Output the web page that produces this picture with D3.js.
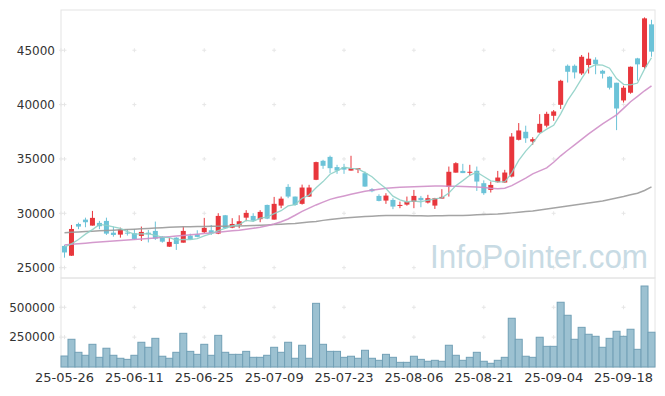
<!DOCTYPE html>
<html>
<head>
<meta charset="utf-8">
<script src="https://cdn.jsdelivr.net/npm/d3@7"></script>
<style>
  body { margin: 0; background: #fff; }
  text { font-family: "DejaVu Sans", sans-serif; }
</style>
</head>
<body>
<svg id="chart" width="665" height="396"></svg>
<script>
// trading days (yy-mm-dd)
var dates = ["25-05-26","25-05-27","25-05-28","25-05-29","25-05-30","25-06-02","25-06-04","25-06-05","25-06-09","25-06-10",
  "25-06-11","25-06-12","25-06-13","25-06-16","25-06-17","25-06-18","25-06-19","25-06-20","25-06-23","25-06-24",
  "25-06-25","25-06-26","25-06-27","25-06-30","25-07-01","25-07-02","25-07-03","25-07-04","25-07-07","25-07-08",
  "25-07-09","25-07-10","25-07-11","25-07-14","25-07-15","25-07-16","25-07-17","25-07-18","25-07-21","25-07-22",
  "25-07-23","25-07-24","25-07-25","25-07-28","25-07-29","25-07-30","25-07-31","25-08-01","25-08-04","25-08-05",
  "25-08-06","25-08-07","25-08-08","25-08-11","25-08-12","25-08-13","25-08-14","25-08-18","25-08-19","25-08-20",
  "25-08-21","25-08-22","25-08-25","25-08-26","25-08-27","25-08-28","25-08-29","25-09-01","25-09-02","25-09-03",
  "25-09-04","25-09-05","25-09-08","25-09-09","25-09-10","25-09-11","25-09-12","25-09-15","25-09-16","25-09-17",
  "25-09-18","25-09-19","25-09-22","25-09-23","25-09-24"];

var opens = [27000,26100,29020,29420,28870,29120,29300,28220,28040,28220,
  28170,27920,28220,28380,27850,26930,27760,27300,27950,28070,
  28260,28440,28130,29820,28680,28930,29600,29760,29460,30770,
  29420,30710,32430,31540,30870,31540,33080,34830,35190,34250,
  34250,33930,34020,33690,32220,31600,31170,31230,30680,30800,
  31050,31420,30990,30710,31350,32430,33740,33900,33760,33910,
  32770,32150,32860,32830,33380,36760,37500,36600,37430,38060,
  38970,39980,43570,43570,42860,43640,44130,43110,42560,42010,
  40380,41090,44250,43450,47380];
var highs = [27090,28930,29140,29600,30220,29300,29600,28780,28680,28540,
  28560,28780,28470,29240,27900,27760,27800,28780,28130,28440,
  29580,28930,30010,29850,29550,29820,30290,30010,30290,30800,
  31510,31540,32680,31540,32640,32620,34750,34920,35310,34460,
  34550,35290,34150,33840,32310,31750,31850,31390,31080,31540,
  32150,31600,31700,31420,32220,34300,34700,34550,34460,34300,
  33030,32920,33900,34000,37380,38300,38060,37000,39120,39340,
  39500,42280,43690,43690,44560,44780,44350,43200,42600,42010,
  41730,43500,44300,48020,47800];
var lows = [25920,26080,28540,28720,28870,28540,28010,27850,27760,27950,
  27550,27460,27320,27550,27300,26900,26630,27300,27550,27800,
  28170,28010,28080,28560,28630,28630,29270,29240,29180,29460,
  29420,30470,31390,30700,30800,31500,33050,34090,33690,33630,
  33630,33930,33700,32440,31940,31100,30870,30380,30470,30700,
  30470,30560,30900,30400,31350,31540,33740,33700,33450,32060,
  31700,31910,32830,32800,33300,36700,36480,36300,37400,37900,
  38510,39590,42030,42400,42720,42860,42790,42400,41390,37650,
  40190,41000,42200,43270,44400];
var closes = [26400,28560,28780,29180,29580,28810,28130,28010,28500,28130,
  27640,28290,28070,27670,27390,27370,27180,28380,27580,27830,
  28660,28170,29760,28630,29020,29270,30040,29330,30130,29510,
  30870,31350,31540,30770,32370,32370,34710,34370,34150,33930,
  34020,34150,34150,32460,32030,31140,31630,30620,30770,31050,
  31600,31200,31390,31390,31510,33820,34610,33700,33820,32920,
  31850,32610,33290,33750,37060,37620,36900,36820,38230,39150,
  39370,42190,43020,42960,44400,44220,43730,42840,41550,39640,
  41550,43480,43700,47930,44870];
var volumes = [92000,232000,123000,98000,190000,81000,157000,98000,73000,64000,
  98000,207000,165000,240000,90000,73000,123000,282000,131000,106000,
  190000,98000,265000,123000,106000,106000,131000,81000,81000,98000,
  165000,123000,207000,73000,182000,73000,533000,190000,131000,131000,
  81000,90000,73000,140000,73000,56000,106000,81000,39000,39000,
  90000,64000,48000,56000,48000,182000,98000,56000,81000,123000,
  48000,31000,56000,81000,408000,232000,90000,81000,249000,173000,
  173000,542000,433000,232000,332000,274000,257000,165000,240000,299000,
  257000,316000,148000,678000,291000];
// closes of the four sessions before the window (for the 5-day average)
var prevCloses = [27100,26800,26700,27500];
// 20-day and 60-day averages
var ma20 = [27090,27150,27200,27250,27310,27370,27410,27460,27500,27550,
  27590,27640,27690,27740,27800,27850,27910,27970,28030,28080,
  28140,28200,28260,28330,28390,28450,28530,28620,28720,28860,
  29020,29230,29480,29820,30180,30480,30770,31030,31280,31450,
  31600,31750,31890,32020,32120,32210,32300,32350,32390,32420,
  32440,32470,32500,32520,32510,32500,32480,32470,32440,32410,
  32370,32300,32260,32300,32550,32890,33230,33630,33900,34180,
  34700,35290,35800,36300,36800,37310,37770,38230,38650,39060,
  39650,40260,40750,41270,41730];
var ma60 = [28220,28250,28290,28320,28360,28390,28420,28450,28480,28510,
  28540,28570,28610,28640,28680,28710,28750,28760,28770,28780,
  28790,28800,28810,28820,28830,28840,28860,28880,28900,28930,
  28960,28990,29030,29070,29130,29190,29250,29350,29420,29490,
  29560,29620,29670,29710,29740,29770,29790,29810,29800,29790,
  29780,29770,29760,29770,29780,29790,29800,29810,29830,29860,
  29880,29910,29940,29990,30040,30100,30160,30220,30310,30400,
  30490,30580,30680,30770,30860,30950,31050,31140,31270,31400,
  31540,31700,31850,32100,32430];
var priceTicks = [25000,30000,35000,40000,45000];
var volTicks = [250000,500000];
var tickEvery = 10;

var allCloses = prevCloses.concat(closes);
var ma5 = closes.map(function(c, i) {
  return d3.mean(allCloses.slice(i, i + 5));
});

var svg = d3.select("#chart");
var plotLeft = 61, plotRight = 655, plotTop = 10, split = 278, plotBottom = 367;

var x = d3.scaleBand().domain(dates).range([plotLeft, plotRight]).padding(0);
var cx = function(d) { return x(d) + x.bandwidth() / 2; };
var y = d3.scaleLinear().domain([24050, 48700]).range([split, plotTop]);
var yv = d3.scaleLinear().domain([0, 745000]).range([plotBottom, split]);

var tickDates = dates.filter(function(d, i) { return i % tickEvery == 0; });

// panel frames
svg.append("rect").attr("x", plotLeft).attr("y", plotTop).attr("width", plotRight - plotLeft).attr("height", split - plotTop)
  .attr("fill", "none").attr("stroke", "#e4e4e4");
svg.append("rect").attr("x", plotLeft).attr("y", split).attr("width", plotRight - plotLeft).attr("height", plotBottom - split)
  .attr("fill", "none").attr("stroke", "#e4e4e4");

// grid crosses
function crosses(g, ys) {
  var pts = [];
  ys.forEach(function(v) {
    pts.push([plotLeft, v]);
    tickDates.forEach(function(d) { pts.push([cx(d), v]); });
  });
  g.selectAll("path").data(pts).enter().append("path")
    .attr("d", function(p) { return "M" + (p[0] - 2) + "," + p[1] + "h4M" + p[0] + "," + (p[1] - 2) + "v4"; })
    .attr("stroke", "#e6e6e6").attr("stroke-width", 1);
}
crosses(svg.append("g"), priceTicks.map(y));
crosses(svg.append("g"), volTicks.map(yv));

// watermark
svg.append("text").attr("x", 430).attr("y", 268)
  .attr("textLength", 218).attr("lengthAdjust", "spacingAndGlyphs")
  .style("font-family", "'Liberation Sans', Arial, sans-serif").style("font-size", "33px")
  .attr("fill", "#c8dbe4").text("InfoPointer.com");

// y axes
var yAxis = d3.axisLeft(y).tickValues(priceTicks).tickSize(0).tickPadding(6).tickFormat(d3.format("d"));
var ga = svg.append("g").attr("transform", "translate(" + plotLeft + ",0)").call(yAxis);
var yvAxis = d3.axisLeft(yv).tickValues(volTicks).tickSize(0).tickPadding(6).tickFormat(d3.format("d"));
var gv = svg.append("g").attr("transform", "translate(" + plotLeft + ",0)").call(yvAxis);
[ga, gv].forEach(function(g) {
  g.select(".domain").remove();
  g.selectAll("text").style("font-size", "12px").attr("fill", "#333");
});

// x axis
var xAxis = d3.axisBottom(x).tickValues(tickDates).tickSize(0).tickPadding(6);
var gx = svg.append("g").attr("transform", "translate(0," + plotBottom + ")").call(xAxis);
gx.select(".domain").remove();
gx.selectAll("text").style("font-size", "13px").attr("fill", "#333");

// volume bars
svg.append("g").selectAll("rect").data(dates).enter().append("rect")
  .attr("x", function(d) { return x(d); })
  .attr("width", x.bandwidth())
  .attr("y", function(d, i) { return yv(volumes[i]); })
  .attr("height", function(d, i) { return plotBottom - yv(volumes[i]); })
  .attr("fill", "#9cc1d1").attr("stroke", "#72a0b6").attr("stroke-width", 1);

// candles
var upColor = "#e8363c", downColor = "#6cc3d8";
var candles = svg.append("g").selectAll("g").data(dates).enter().append("g");
candles.append("line")
  .attr("x1", cx).attr("x2", cx)
  .attr("y1", function(d, i) { return y(highs[i]); })
  .attr("y2", function(d, i) { return y(lows[i]); })
  .attr("stroke", function(d, i) { return closes[i] >= opens[i] ? upColor : downColor; })
  .attr("stroke-width", 1);
candles.append("rect")
  .attr("x", function(d) { return cx(d) - 2.5; })
  .attr("width", 5)
  .attr("y", function(d, i) { return y(Math.max(opens[i], closes[i])); })
  .attr("height", function(d, i) { return Math.max(1, Math.abs(y(opens[i]) - y(closes[i]))); })
  .attr("fill", function(d, i) { return closes[i] >= opens[i] ? upColor : downColor; });

// moving averages
function maLine(vals, color, w) {
  var line = d3.line().x(function(d, i) { return cx(dates[i]); }).y(function(d) { return y(d); });
  svg.append("path").datum(vals).attr("d", line)
    .attr("fill", "none").attr("stroke", color).attr("stroke-width", w).attr("stroke-opacity", 0.9);
}
maLine(ma60, "#9a9a9a", 1.5);
maLine(ma20, "#cf8fc8", 1.5);
maLine(ma5, "#8fd0c6", 1.3);
</script>
</body>
</html>
